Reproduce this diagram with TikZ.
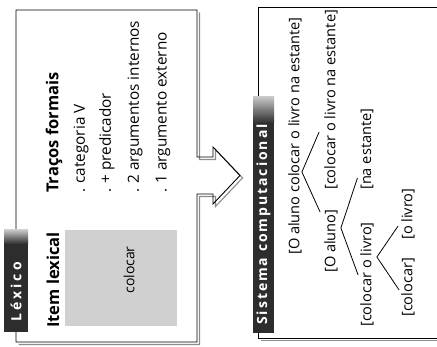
\documentclass[tikz,border=0pt]{standalone}
\usepackage{fontspec}
\setmainfont{Open Sans}
\usepackage{tikz}
\usetikzlibrary{calc}
\definecolor{tabgray}{RGB}{45,45,45}
\definecolor{boxgray}{RGB}{208,208,208}
\definecolor{shadowgray}{RGB}{140,140,140}

\begin{document}
\begin{tikzpicture}[x=1pt, y=-1pt,
  frame/.style={draw=black, line width=0.9pt, line join=miter},
  shadowline/.style={draw=shadowgray, line width=1.1pt},
  tab/.style={rotate=90, anchor=west, inner sep=0pt, text=white, font=\fontsize{14}{16}\selectfont\bfseries\addfontfeatures{LetterSpace=#1}},
  tab/.default=14,
  heading/.style={rotate=90, anchor=west, inner sep=0pt, font=\fontsize{16.5}{19}\selectfont\bfseries},
  feature/.style={rotate=90, anchor=west, inner sep=0pt, font=\fontsize{15.3}{18}\selectfont},
  phrase/.style={rotate=90, anchor=west, inner sep=0pt, font=\fontsize{14.6}{17}\selectfont},
  branch/.style={draw=black, line width=0.8pt}
]
\useasboundingbox (0,0) rectangle (437,347);

% Lexicon box with arrow
\draw[shadowline, shift={(2.5,2.5)}] (197,10) -- (197,157) -- (213,157) -- (213,147) -- (240,175.5) -- (213,204) -- (213,194) -- (197,194) -- (197,342) -- (16,342);
\draw[frame] (16,10) -- (197,10) -- (197,157) -- (213,157) -- (213,147) -- (240,175.5) -- (213,204) -- (213,194) -- (197,194) -- (197,342) -- (16,342) -- cycle;

% Computational system box
\draw[shadowline, shift={(2.5,2.5)}] (258,338) -- (437,338);
\draw[frame] (437,7) -- (258,7) -- (258,338) -- (437,338);

% Tabs
\fill[tabgray] (4,244) rectangle (28,332);
\shade[top color=gray!45, bottom color=tabgray] (4,230) rectangle (28,244);
\node[tab=22] (lex) at (16,322) {Léxico};

\fill[tabgray] (253,123) rectangle (274,333);
\shade[top color=gray!45, bottom color=tabgray] (253,97) rectangle (274,123);
\node[tab] (sys) at (263.5,325) {Sistema computacional};

% Lexical item
\node[heading] (item) at (53,328) {Item lexical};
\fill[boxgray] (65,230) rectangle (177,326);
\node[feature, anchor=center, font=\fontsize{14}{16}\selectfont] (lemma) at (129,270) {colocar};

% Formal features
\node[heading] (traits) at (54,193) {Traços formais};
\node[feature] (f1) at (81,193) {. categoria V};
\node[feature] (f2) at (107,193) {. + predicador};
\node[feature] (f3) at (135,193) {. 2 argumentos internos};
\node[feature] (f4) at (163,193) {. 1 argumento externo};

% Derivation
\node[phrase] (s) at (295,255) {[O aluno colocar o livro na estante]};
\node[phrase] (vp) at (331,190) {[colocar o livro na estante]};
\node[phrase] (subj) at (331,273) {[O aluno]};
\node[phrase] (pp) at (367,190) {[na estante]};
\node[phrase] (vbar) at (367,327) {[colocar o livro]};
\node[phrase] (obj) at (408,240) {[o livro]};
\node[phrase] (verb) at (408,317) {[colocar]};

\draw[branch] ($(vp.north |- 0,132)+(-5,0)$) -- (s.south |- 0,172) -- ($(subj.north |- 0,212)+(-4,0)$);
\draw[branch] ($(pp.north |- 0,178)+(-3,0)$) -- ($(subj.south |- 0,228)+(3,0)$) -- ($(vbar.north |- 0,275)+(-2,0)$);
\draw[branch] ($(obj.north |- 0,226)+(-3,0)$) -- ($(vbar.south |- 0,257)+(3,0)$) -- ($(verb.north |- 0,290)+(-2,0)$);

\end{tikzpicture}
\end{document}
